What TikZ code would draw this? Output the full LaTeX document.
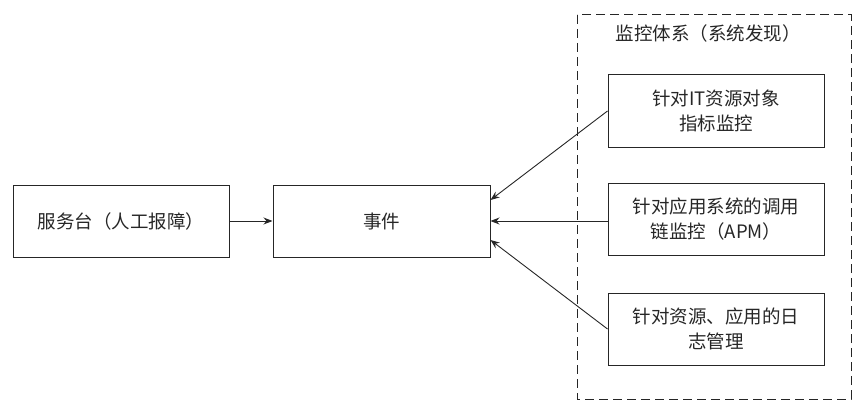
\documentclass[tikz,border=0pt]{standalone}
\usepackage{fontspec}
\setmainfont{Noto Sans CJK SC}
\usetikzlibrary{arrows.meta}
\begin{document}
\begin{tikzpicture}[x=1pt,y=-1pt,
  txt/.style={font=\fontsize{18.5}{25}\selectfont,text=black!85},
  box/.style={txt,draw=black!85,line width=1pt,minimum width=216pt,minimum height=72pt,inner sep=0pt,align=center},
  conn/.style={draw=black!85,line width=0.9pt,-{Stealth[length=9pt,width=7pt]}}]
\useasboundingbox (0,0) rectangle (865,412);
\node[box] (desk) at (121,221) {服务台（人工报障）};
\node[box,minimum width=217pt] (event) at (381.5,221) {事件};
\draw[black!85,line width=1pt,dash pattern=on 9pt off 5pt] (577,15) rectangle (851,399);
\node[txt] (title) at (708,33) {监控体系（系统发现）};
\node[box] (a) at (716,111) {针对IT资源对象\\指标监控};
\node[box] (b) at (716,219.5) {针对应用系统的调用\\链监控（APM）};
\node[box] (c) at (716,329) {针对资源、应用的日\\志管理};
\draw[conn] (desk.east) -- (event.west);
\draw[conn] (a.west) -- (event.east |- 0,200);
\draw[conn] (b.west |- 0,221) -- (event.east);
\draw[conn] (c.west) -- (event.east |- 0,240);
\end{tikzpicture}
\end{document}
